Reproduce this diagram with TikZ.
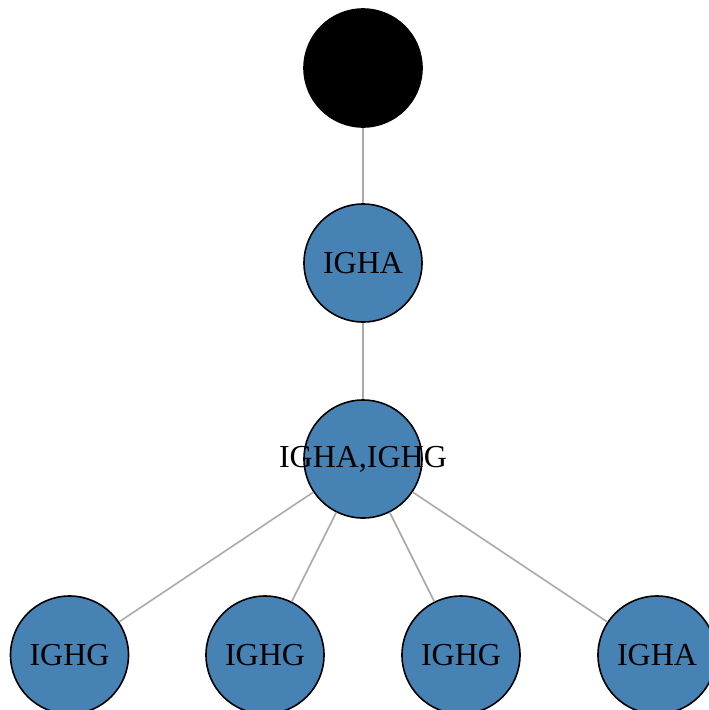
\documentclass[tikz,border=0pt]{standalone}
\usepackage{fontspec}
\setmainfont{Liberation Serif}
\definecolor{steel}{RGB}{70,130,180}
\definecolor{edgegray}{RGB}{170,170,170}
\tikzset{
  vnode/.style={circle, draw=black, line width=1.6pt, fill=steel, minimum size=118pt, inner sep=0pt, font=\fontsize{32}{32}\selectfont},
  rootnode/.style={vnode, fill=black},
  edge/.style={draw=edgegray, line width=1.6pt}
}
\begin{document}
\begin{tikzpicture}[x=1pt,y=-1pt]
\useasboundingbox (0,0) rectangle (709,710);
\node[rootnode] (r) at (363,68) {};
\node[vnode] (a) at (363,263) {IGHA};
\node[vnode] (ag) at (363,459) {};
\node[vnode] (b1) at (69.5,655) {IGHG};
\node[vnode] (b2) at (265,655) {IGHG};
\node[vnode] (b3) at (461,655) {IGHG};
\node[vnode] (b4) at (657,655) {IGHA};
\node[font=\fontsize{32}{32}\selectfont, inner sep=0pt] (agl) at (ag.center) {IGHA,IGHG};
\draw[edge] (r) -- (a);
\draw[edge] (a) -- (ag);
\draw[edge] (ag) -- (b1);
\draw[edge] (ag) -- (b2);
\draw[edge] (ag) -- (b3);
\draw[edge] (ag) -- (b4);
\end{tikzpicture}
\end{document}
